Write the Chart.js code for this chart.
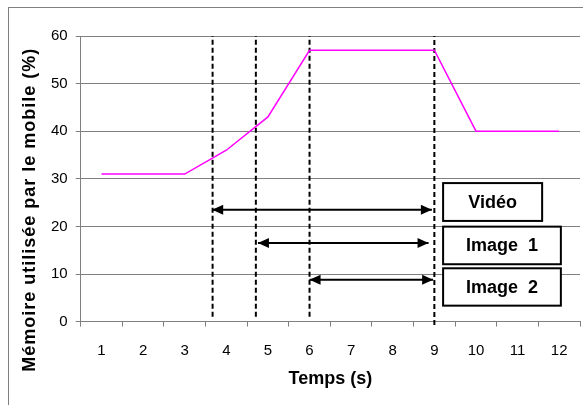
<!DOCTYPE html>
<html>
<head>
<meta charset="utf-8">
<script src="https://cdn.jsdelivr.net/npm/chart.js@4.4.1/dist/chart.umd.min.js"></script>
<style>
  html, body { margin: 0; padding: 0; background: #fff; }
  #wrap { width: 583px; height: 405px; }
</style>
</head>
<body>
<div id="wrap"><canvas id="memChart"></canvas></div>
<script>
// valeurs
const temps = ['1', '2', '3', '4', '5', '6', '7', '8', '9', '10', '11', '12'];
const memoire = [31, 31, 31, 36, 43, 57, 57, 57, 57, 40, 40, 40];
const yTicks = [0, 10, 20, 30, 40, 50, 60];

// lignes verticales pointillées (en secondes) et leur bas
const reperes = [3.67, 4.71, 6, 9];
const reperesBas = [1, 1, 1, -0.7];

// flèches : début, fin, hauteur (%)
const flecheDebut = [3.66, 4.76, 6.0];
const flecheFin = [8.94, 8.86, 8.97];
const flecheY = [23.5, 16.5, 8.8];
const etiquettes = ['Vidéo', 'Image  1', 'Image  2'];

// cadres des étiquettes (en unités des axes)
const cadres = [
  { x0: 9.21, x1: 11.59, y0: 29.1, y1: 21.15 },
  { x0: 9.21, x1: 12.04, y0: 19.95, y1: 12.05 },
  { x0: 9.21, x1: 12.04, y0: 11.2, y1: 3.35 }
];

Chart.defaults.font.family = '"Liberation Sans", Arial, sans-serif';
Chart.defaults.color = '#000';

const datasets = [{
  data: memoire,
  xAxisID: 'x',
  borderColor: '#ff00ff',
  borderWidth: 1.5,
  pointRadius: 0,
  tension: 0
}];

reperes.forEach((r, i) => {
  datasets.push({
    data: [{ x: r, y: reperesBas[i] }, { x: r, y: 60 }],
    xAxisID: 'xv',
    borderColor: '#000',
    borderWidth: 2,
    borderDash: [5, 3],
    pointRadius: 0,
    clip: false
  });
});

flecheY.forEach((y, i) => {
  datasets.push({
    data: [{ x: flecheDebut[i], y: y }, { x: flecheFin[i], y: y }],
    xAxisID: 'xv',
    borderColor: '#000',
    borderWidth: 2,
    pointRadius: 0,
    fleche: true
  });
});

const decor = {
  id: 'decor',
  beforeDraw(chart) {
    const ctx = chart.ctx;
    ctx.save();
    ctx.strokeStyle = '#808080';
    ctx.lineWidth = 1;
    ctx.strokeRect(8.5, 7.5, 600, 420);
    ctx.restore();
  },
  afterDatasetsDraw(chart) {
    const ctx = chart.ctx;
    ctx.save();
    ctx.fillStyle = '#000';
    chart.data.datasets.forEach((ds, i) => {
      if (!ds.fleche) return;
      const pts = chart.getDatasetMeta(i).data;
      const a = pts[0], b = pts[1];
      ctx.beginPath();
      ctx.moveTo(a.x, a.y);
      ctx.lineTo(a.x + 11, a.y - 5);
      ctx.lineTo(a.x + 11, a.y + 5);
      ctx.closePath();
      ctx.fill();
      ctx.beginPath();
      ctx.moveTo(b.x, b.y);
      ctx.lineTo(b.x - 11, b.y - 5);
      ctx.lineTo(b.x - 11, b.y + 5);
      ctx.closePath();
      ctx.fill();
    });
    ctx.restore();
  },
  afterDraw(chart) {
    const ctx = chart.ctx;
    const xs = chart.scales.xv, ys = chart.scales.y;
    ctx.save();
    cadres.forEach((c, i) => {
      const l = xs.getPixelForValue(c.x0), r = xs.getPixelForValue(c.x1);
      const t = ys.getPixelForValue(c.y0), b = ys.getPixelForValue(c.y1);
      ctx.fillStyle = '#fff';
      ctx.fillRect(l, t, r - l, b - t);
      ctx.strokeStyle = '#000';
      ctx.lineWidth = 2;
      ctx.strokeRect(l, t, r - l, b - t);
      ctx.fillStyle = '#000';
      ctx.font = 'bold 18px "Liberation Sans", Arial, sans-serif';
      ctx.textAlign = 'center';
      ctx.textBaseline = 'middle';
      ctx.fillText(etiquettes[i], (l + r) / 2, (t + b) / 2 + 1);
    });
    // titre de l'axe vertical
    const ca = chart.chartArea;
    ctx.translate(ca.left - 51, (ca.top + ca.bottom) / 2 + 31);
    ctx.rotate(-Math.PI / 2);
    ctx.font = 'bold 18px "Liberation Sans", Arial, sans-serif';
    ctx.letterSpacing = '1px';
    ctx.textAlign = 'center';
    ctx.textBaseline = 'middle';
    ctx.fillText('Mémoire utilisée par le mobile (%)', 0, 0);
    ctx.restore();
  }
};

new Chart(document.getElementById('memChart'), {
  type: 'line',
  data: { labels: temps, datasets: datasets },
  options: {
    responsive: true,
    maintainAspectRatio: false,
    animation: false,
    layout: { padding: { top: 36, left: 43, right: 3, bottom: 12 } },
    plugins: { legend: { display: false }, tooltip: { enabled: false } },
    scales: {
      x: {
        type: 'category',
        offset: true,
        grid: { drawOnChartArea: false, offset: true, tickLength: 5, color: '#808080' },
        border: { color: '#808080' },
        ticks: { font: { size: 15 }, padding: 15.2, color: '#000' },
        title: {
          display: true,
          text: 'Temps (s)',
          font: { size: 18, weight: 'bold', lineHeight: 1 },
          padding: { top: -5, bottom: 5 },
          color: '#000'
        }
      },
      xv: { type: 'linear', min: 0.5, max: 12.5, display: false },
      y: {
        min: 0,
        max: 60,
        afterBuildTicks: s => { s.ticks = yTicks.map(v => ({ value: v })); },
        grid: { color: '#808080', tickLength: 5 },
        border: { color: '#808080' },
        ticks: { font: { size: 15 }, padding: 8, color: '#000' }
      }
    }
  },
  plugins: [decor]
});
</script>
</body>
</html>
